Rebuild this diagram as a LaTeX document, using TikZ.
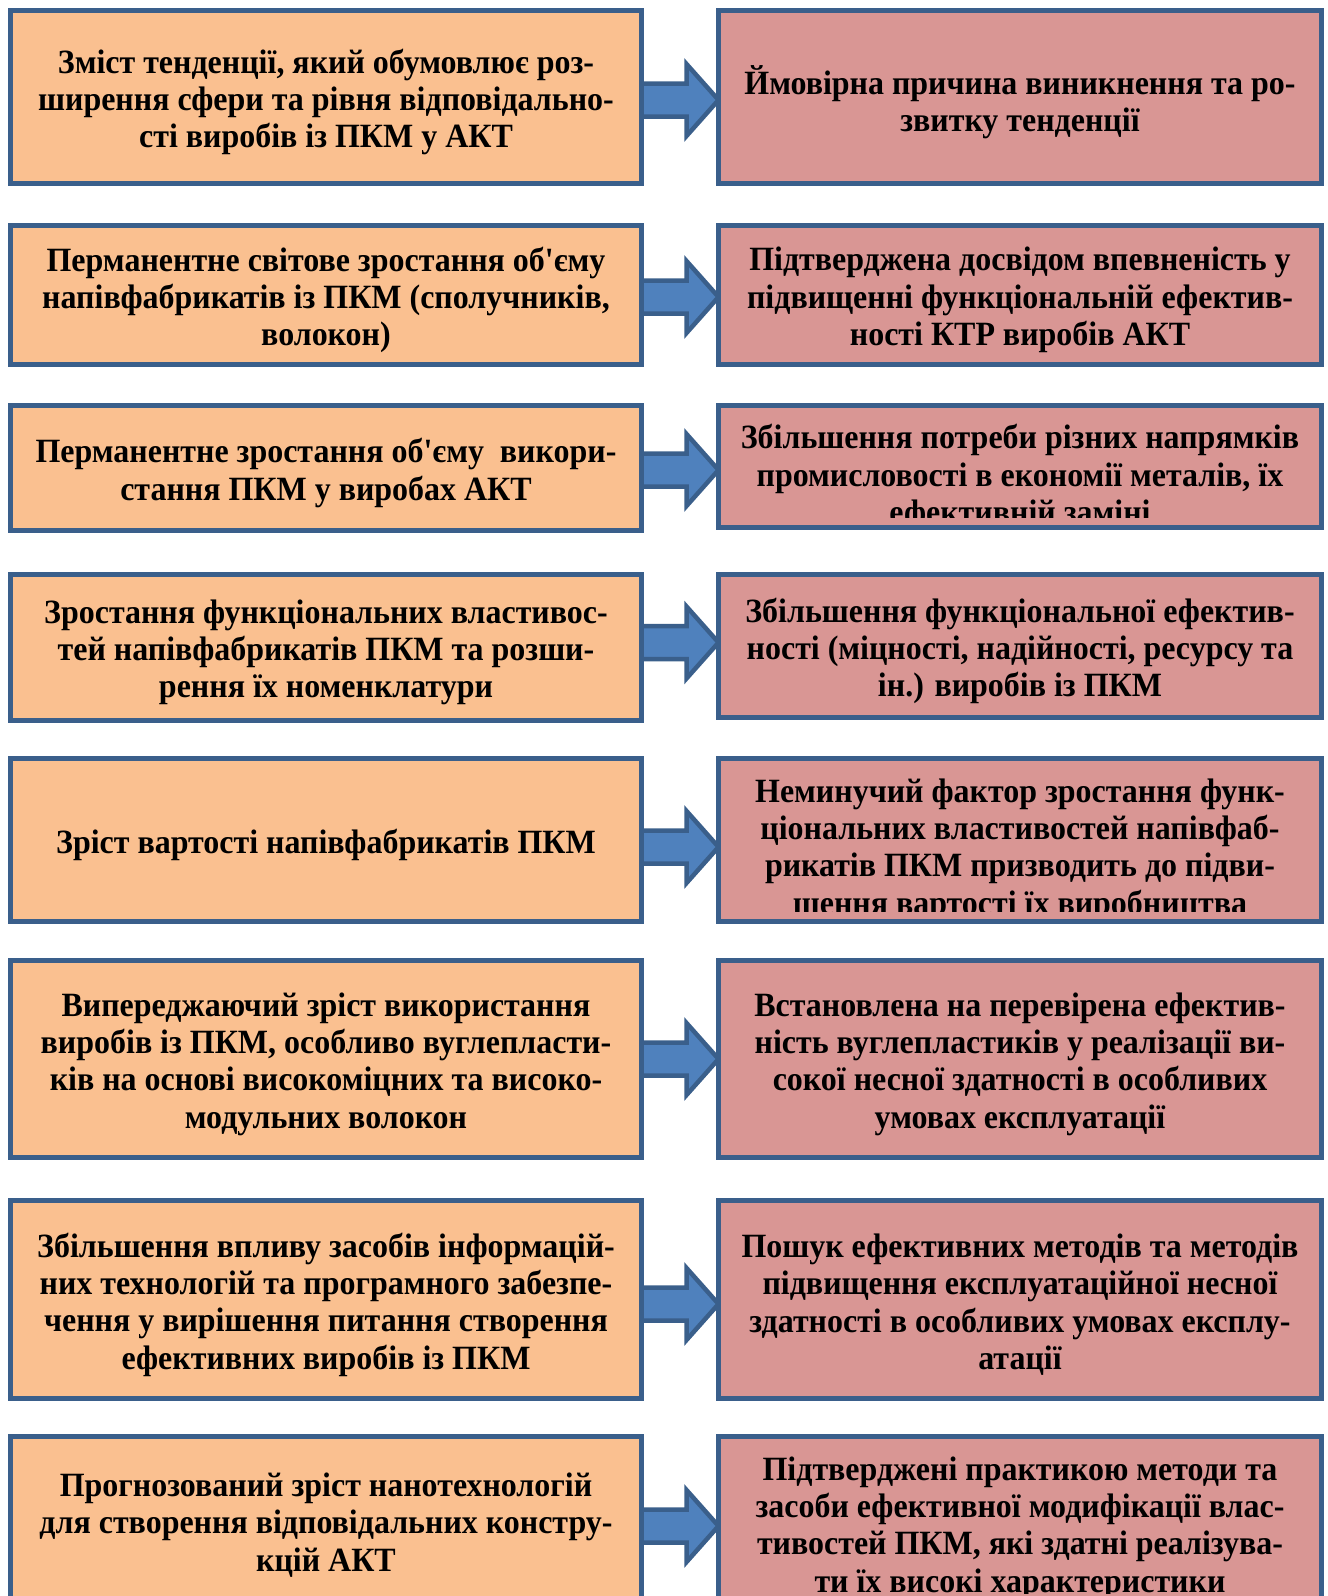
\documentclass[tikz,border=0pt]{standalone}
\usepackage{fontspec}
\newfontfamily\boxfont{Liberation Serif}[FakeStretch=0.94, Ligatures=TeXOff]
\usetikzlibrary{calc,backgrounds}

\definecolor{frame}{HTML}{3A5F8B}
\definecolor{trendfill}{HTML}{FAC090}
\definecolor{causefill}{HTML}{D99694}
\definecolor{arrowfill}{HTML}{4F81BD}

\tikzset{
  boxtext/.style={inner sep=0, align=center, text=black,
    font=\boxfont\bfseries\fontsize{34}{37.3}\selectfont},
  box/.style={draw=frame, line width=5, outer sep=0, inner sep=0, anchor=north west},
  trend/.style={box, fill=trendfill, minimum width=631},
  cause/.style={box, fill=causefill, minimum width=603},
  flow/.style={fill=arrowfill, draw=frame, line width=4.5, line join=miter},
}

% block arrow from a trend box to its cause box, shifted vertically by #3
\newcommand\flowarrow[3]{%
  \draw[flow] ($(#1.east)+(0,#3-16.5)$)
    -- ($(#2.west |- #1.east)+(-32,#3-16.5)$)
    -- ($(#2.west |- #1.east)+(-32,#3-36)$)
    -- ($(#2.west |- #1.east)+(0,#3)$)
    -- ($(#2.west |- #1.east)+(-32,#3+36)$)
    -- ($(#2.west |- #1.east)+(-32,#3+16.5)$)
    -- ($(#1.east)+(0,#3+16.5)$) -- cycle;}

% text centred in a box
\newcommand\boxlabel[3]{\node[boxtext] (#2) at ($(#1.center)+(0,5)$) {#3};}
% text that starts near the top of a box and is cut off by its lower edge
\newcommand\cutlabel[4]{%
  \begin{scope}
    \clip ($(#1.north west)+(2.5,2.5)$) rectangle ($(#1.south east)+(-2.5,-10)$);
    \node[boxtext] (#2) at ($(#1.north)+(0,#3)$) {#4};
  \end{scope}}

\begin{document}
\begin{tikzpicture}[x=1pt,y=-1pt]
\useasboundingbox (0,0) rectangle (1328,1596);
\clip (0,0) rectangle (1328,1596);

% ---- row 1
\node[trend, minimum height=173] (L1) at (10.5,10.5) {};
\node[cause, minimum height=173] (R1) at (718.5,10.5) {};
\boxlabel{L1}{TL1}{Зміст тенденції, який обумовлює роз-\\ширення сфери та рівня відповідально-\\сті виробів із ПКМ у АКТ}
\boxlabel{R1}{TR1}{Ймовірна причина виникнення та ро-\\звитку тенденції}

% ---- row 2
\node[trend, minimum height=139] (L2) at (10.5,225.5) {};
\node[cause, minimum height=139] (R2) at (718.5,225.5) {};
\boxlabel{L2}{TL2}{Перманентне світове зростання об'єму\\напівфабрикатів із ПКМ (сполучників,\\волокон)}
\boxlabel{R2}{TR2}{Підтверджена досвідом впевненість у\\підвищенні функціональній ефектив-\\ності КТР виробів АКТ}

% ---- row 3
\node[trend, minimum height=125] (L3) at (10.5,405.5) {};
\node[cause, minimum height=122] (R3) at (718.5,405.5) {};
\boxlabel{L3}{TL3}{Перманентне зростання об'єму \ викори-\\стання ПКМ у виробах АКТ}
\cutlabel{R3}{TR3}{72}{Збільшення потреби різних напрямків\\промисловості в економії металів, їх\\ефективній заміні}

% ---- row 4
\node[trend, minimum height=146] (L4) at (10.5,574.5) {};
\node[cause, minimum height=143] (R4) at (718.5,574.5) {};
\boxlabel{L4}{TL4}{Зростання функціональних властивос-\\тей напівфабрикатів ПКМ та розши-\\рення їх номенклатури}
\boxlabel{R4}{TR4}{Збільшення функціональної ефектив-\\ності (міцності, надійності, ресурсу та\\ін.) виробів із ПКМ}

% ---- row 5
\node[trend, minimum height=163] (L5) at (10.5,758.5) {};
\node[cause, minimum height=163] (R5) at (718.5,758.5) {};
\boxlabel{L5}{TL5}{Зріст вартості напівфабрикатів ПКМ}
\cutlabel{R5}{TR5}{91.5}{Неминучий фактор зростання функ-\\ціональних властивостей напівфаб-\\рикатів ПКМ призводить до підви-\\шення вартості їх виробництва}

% ---- row 6
\node[trend, minimum height=197] (L6) at (10.5,960.5) {};
\node[cause, minimum height=197] (R6) at (718.5,960.5) {};
\boxlabel{L6}{TL6}{Випереджаючий зріст використання\\виробів із ПКМ, особливо вуглепласти-\\ків на основі високоміцних та високо-\\модульних волокон}
\boxlabel{R6}{TR6}{Встановлена на перевірена ефектив-\\ність вуглепластиків у реалізації ви-\\сокої несної здатності в особливих\\умовах експлуатації}

% ---- row 7
\node[trend, minimum height=198] (L7) at (10.5,1200.5) {};
\node[cause, minimum height=198] (R7) at (718.5,1200.5) {};
\boxlabel{L7}{TL7}{Збільшення впливу засобів інформацій-\\них технологій та програмного забезпе-\\чення у вирішення питання створення\\ефективних виробів із ПКМ}
\boxlabel{R7}{TR7}{Пошук ефективних методів та методів\\підвищення експлуатаційної несної\\здатності в особливих умовах експлу-\\атації}

% ---- row 8 (runs past the lower edge)
\node[trend, minimum height=167] (L8) at (10.5,1436.5) {};
\node[cause, minimum height=167] (R8) at (718.5,1436.5) {};
\boxlabel{L8}{TL8}{Прогнозований зріст нанотехнологій\\для створення відповідальних констру-\\кцій АКТ}
\cutlabel{R8}{TR8}{91.5}{Підтверджені практикою методи та\\засоби ефективної модифікації влас-\\тивостей ПКМ, які здатні реалізува-\\ти їх високі характеристики}

% ---- block arrows behind the boxes
\begin{pgfonlayer}{background}
  \flowarrow{L1}{R1}{3}
  \flowarrow{L2}{R2}{2}
  \flowarrow{L3}{R3}{2}
  \flowarrow{L4}{R4}{-5}
  \flowarrow{L5}{R5}{7}
  \flowarrow{L6}{R6}{0}
  \flowarrow{L7}{R7}{4.5}
  \flowarrow{L8}{R8}{6}
\end{pgfonlayer}
\end{tikzpicture}
\end{document}
